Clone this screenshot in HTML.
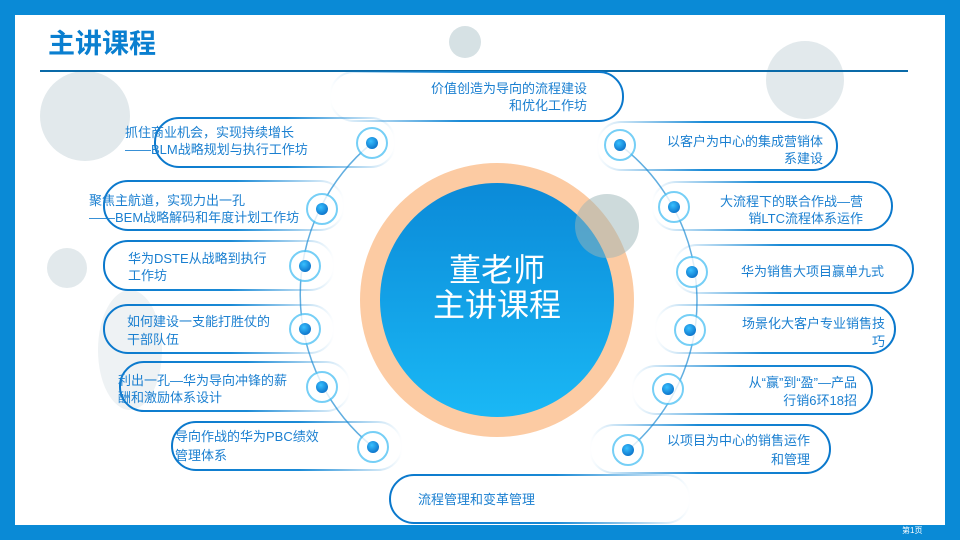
<!DOCTYPE html>
<html><head><meta charset="utf-8"><style>
body{margin:0;width:960px;height:540px;overflow:hidden;background:#0a8ad6;}
svg{display:block}
text{font-family:"Liberation Sans","Noto Sans CJK SC",sans-serif;}
</style></head><body>
<svg width="960" height="540" viewBox="0 0 960 540" xmlns="http://www.w3.org/2000/svg">
<defs>
<linearGradient id="gl" x1="0" x2="1" y1="0" y2="0"><stop offset="0" stop-color="#0a78cc"/><stop offset="0.55" stop-color="#1a8ad6"/><stop offset="1" stop-color="#1a8ad6" stop-opacity="0"/></linearGradient>
<linearGradient id="gr" x1="1" x2="0" y1="0" y2="0"><stop offset="0" stop-color="#0a78cc"/><stop offset="0.55" stop-color="#1a8ad6"/><stop offset="1" stop-color="#1a8ad6" stop-opacity="0"/></linearGradient>
<radialGradient id="dot" cx="0.4" cy="0.35" r="0.7"><stop offset="0" stop-color="#38c0ff"/><stop offset="1" stop-color="#0a70c8"/></radialGradient>
<linearGradient id="cg" x1="0" y1="0" x2="0" y2="1"><stop offset="0" stop-color="#0b8ad8"/><stop offset="1" stop-color="#1ab8f5"/></linearGradient>
</defs>
<rect x="15" y="15" width="930" height="510" fill="#fff"/>
<circle cx="85" cy="116" r="45" fill="#e2e9ec"/>
<circle cx="465" cy="42" r="16" fill="#d6e1e4"/>
<circle cx="805" cy="80" r="39" fill="#e2e9ec"/>
<circle cx="67" cy="268" r="20" fill="#e2e9ec"/>
<ellipse cx="130" cy="350" rx="32" ry="60" fill="#eef2f4"/>
<text x="48" y="53" font-size="27" font-weight="bold" fill="#0a7fd0">主讲课程</text>
<rect x="40" y="70" width="868" height="2" fill="#0a6aa8"/>
<circle cx="497" cy="300" r="137" fill="#fccba3"/>
<circle cx="497" cy="300" r="117" fill="url(#cg)"/>
<circle cx="607" cy="226" r="32" fill="#9bb5b8" opacity="0.5"/>
<text x="497" y="281" font-size="32" fill="#fff" text-anchor="middle">董老师</text>
<text x="497" y="316" font-size="32" fill="#fff" text-anchor="middle">主讲课程</text>
<path d="M372 143 A196 196 0 0 0 373 447" fill="none" stroke="#3a9ad8" stroke-width="1.5" opacity="0.8"/>
<path d="M620 145 A196 196 0 0 1 628 450" fill="none" stroke="#3a9ad8" stroke-width="1.5" opacity="0.8"/>
<g fill="none" stroke="url(#gl)" stroke-width="2">
<rect x="155" y="118" width="240" height="49" rx="24"/>
<rect x="104" y="181" width="240" height="49" rx="24"/>
<rect x="104" y="241" width="230" height="49" rx="24"/>
<rect x="104" y="305" width="230" height="48" rx="24"/>
<rect x="120" y="362" width="230" height="49" rx="24"/>
<rect x="172" y="422" width="230" height="48" rx="24"/>
<rect x="390" y="475" width="300" height="48" rx="24"/>
</g>
<g fill="none" stroke="url(#gr)" stroke-width="2">
<rect x="330" y="72" width="293" height="49" rx="24"/>
<rect x="597" y="122" width="240" height="48" rx="24"/>
<rect x="652" y="182" width="240" height="48" rx="24"/>
<rect x="673" y="245" width="240" height="48" rx="24"/>
<rect x="655" y="305" width="240" height="48" rx="24"/>
<rect x="632" y="366" width="240" height="48" rx="24"/>
<rect x="590" y="425" width="240" height="48" rx="24"/>
</g>
<g>
<g transform="translate(372,143)"><circle r="15" fill="#fff" stroke="#55c4f5" stroke-width="2" opacity="0.8"/><circle r="6" fill="url(#dot)"/></g>
<g transform="translate(322,209)"><circle r="15" fill="#fff" stroke="#55c4f5" stroke-width="2" opacity="0.8"/><circle r="6" fill="url(#dot)"/></g>
<g transform="translate(305,266)"><circle r="15" fill="#fff" stroke="#55c4f5" stroke-width="2" opacity="0.8"/><circle r="6" fill="url(#dot)"/></g>
<g transform="translate(305,329)"><circle r="15" fill="#fff" stroke="#55c4f5" stroke-width="2" opacity="0.8"/><circle r="6" fill="url(#dot)"/></g>
<g transform="translate(322,387)"><circle r="15" fill="#fff" stroke="#55c4f5" stroke-width="2" opacity="0.8"/><circle r="6" fill="url(#dot)"/></g>
<g transform="translate(373,447)"><circle r="15" fill="#fff" stroke="#55c4f5" stroke-width="2" opacity="0.8"/><circle r="6" fill="url(#dot)"/></g>
<g transform="translate(620,145)"><circle r="15" fill="#fff" stroke="#55c4f5" stroke-width="2" opacity="0.8"/><circle r="6" fill="url(#dot)"/></g>
<g transform="translate(674,207)"><circle r="15" fill="#fff" stroke="#55c4f5" stroke-width="2" opacity="0.8"/><circle r="6" fill="url(#dot)"/></g>
<g transform="translate(692,272)"><circle r="15" fill="#fff" stroke="#55c4f5" stroke-width="2" opacity="0.8"/><circle r="6" fill="url(#dot)"/></g>
<g transform="translate(690,330)"><circle r="15" fill="#fff" stroke="#55c4f5" stroke-width="2" opacity="0.8"/><circle r="6" fill="url(#dot)"/></g>
<g transform="translate(668,389)"><circle r="15" fill="#fff" stroke="#55c4f5" stroke-width="2" opacity="0.8"/><circle r="6" fill="url(#dot)"/></g>
<g transform="translate(628,450)"><circle r="15" fill="#fff" stroke="#55c4f5" stroke-width="2" opacity="0.8"/><circle r="6" fill="url(#dot)"/></g>
</g>
<g font-size="13" fill="#1a7fd0">
<text x="125" y="137">抓住商业机会，实现持续增长</text>
<text x="125" y="154">——BLM战略规划与执行工作坊</text>
<text x="89" y="205">聚焦主航道，实现力出一孔</text>
<text x="89" y="222">——BEM战略解码和年度计划工作坊</text>
<text x="128" y="263">华为DSTE从战略到执行</text>
<text x="128" y="280">工作坊</text>
<text x="127" y="326">如何建设一支能打胜仗的</text>
<text x="127" y="344">干部队伍</text>
<text x="118" y="385">利出一孔—华为导向冲锋的薪</text>
<text x="118" y="402">酬和激励体系设计</text>
<text x="175" y="441">导向作战的华为PBC绩效</text>
<text x="175" y="460">管理体系</text>
<text x="418" y="504">流程管理和变革管理</text>
<g text-anchor="end">
<text x="587" y="93">价值创造为导向的流程建设</text>
<text x="587" y="110">和优化工作坊</text>
<text x="823" y="146">以客户为中心的集成营销体</text>
<text x="823" y="163">系建设</text>
<text x="863" y="206">大流程下的联合作战—营</text>
<text x="863" y="223">销LTC流程体系运作</text>
<text x="884" y="276">华为销售大项目赢单九式</text>
<text x="885" y="328">场景化大客户专业销售技</text>
<text x="885" y="346">巧</text>
<text x="857" y="387">从“赢”到“盈”—产品</text>
<text x="857" y="405">行销6环18招</text>
<text x="810" y="445">以项目为中心的销售运作</text>
<text x="810" y="464">和管理</text>
</g>
</g>
<text x="902" y="533" font-size="8" fill="#fff">第1页</text>
</svg>
</body></html>
